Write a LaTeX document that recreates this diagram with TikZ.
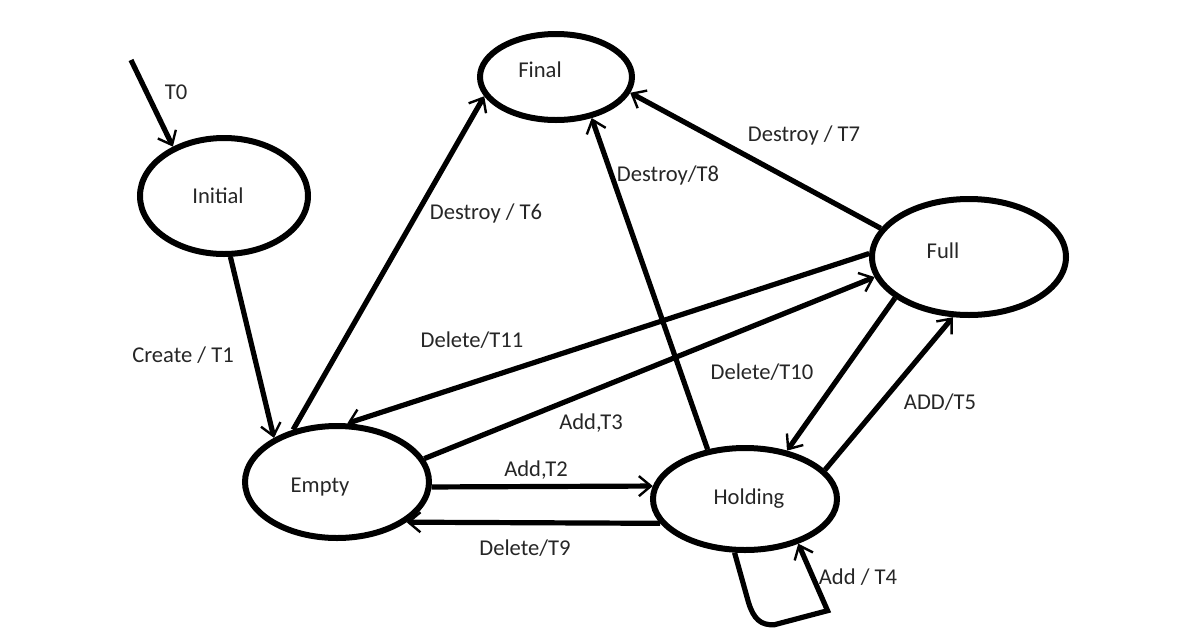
\documentclass[tikz,border=0pt]{standalone}
\usepackage{fontspec}
\setmainfont{Carlito}
\usetikzlibrary{arrows.meta}
\usetikzlibrary{shapes.geometric}

\tikzset{
  state/.style={draw, ellipse, line width=3pt, inner sep=0pt},
  trans/.style={line width=2.6pt,
    -{Straight Barb[length=6pt,width=10pt,line width=1.2pt]}},
  lbl/.style={text=black!85, font=\fontsize{11.3}{13}\selectfont, inner sep=1pt},
}

\begin{document}
\begin{tikzpicture}[x=0.5pt, y=-0.5pt]
  \useasboundingbox (0,0) rectangle (1190,633);

  % states
  \node[state, minimum width=84pt, minimum height=58pt,
    label={[lbl, xshift=-3pt]center:Initial}] (init) at (224,196) {};
  \node[state, minimum width=76pt, minimum height=43pt,
    label={[lbl, xshift=-8pt, yshift=3.5pt]center:Final}] (final) at (556,77) {};
  \node[state, minimum width=97pt, minimum height=58pt,
    label={[lbl, xshift=-13pt, yshift=3pt]center:Full}] (full) at (969,257) {};
  \node[state, minimum width=92pt, minimum height=56pt,
    label={[lbl, xshift=-8.5pt, yshift=-2.5pt]center:Empty}] (empty) at (337,482) {};
  \node[state, minimum width=92pt, minimum height=51pt,
    label={[lbl, xshift=2pt]center:Holding}] (hold) at (745,499) {};

  % transitions
  \coordinate (start) at (131,60);
  \draw[trans] (start) -- (init.136);
  \draw[trans] (init.-84) -- (empty.145);
  \draw[trans] (empty.130) -- (final.195);
  \draw[trans] (hold.127) -- (final.-49);
  \draw[trans] (full.162) -- (final.-12);
  \draw[trans] (full.178) -- (empty.80);
  \draw[trans] (empty.15) -- (full.192);
  \draw[trans] (full.209) -- (hold.49);
  \draw[trans] (hold.20) -- (full.255);
  \draw[trans] (empty.-3) -- (hold.172);
  \draw[trans] (hold.196) -- (empty.-30);
  \draw[trans] (hold.-101) -- ++(14,50) .. controls +(5,16) and +(-14,1) .. ++(26,22)
    -- ++(53,-14) -- (hold.-40);

  % labels
  \node[lbl] (l0)  at (176,92)  {T0};
  \node[lbl] (l1)  at (183,355) {Create / T1};
  \node[lbl] (l6)  at (486,213) {Destroy / T6};
  \node[lbl] (l8)  at (668,175) {Destroy/T8};
  \node[lbl] (l7)  at (804,135) {Destroy / T7};
  \node[lbl] (l11) at (472,340) {Delete/T11};
  \node[lbl] (l3)  at (591,423) {Add,T3};
  \node[lbl] (l2)  at (536,470) {Add,T2};
  \node[lbl] (l9)  at (525,548) {Delete/T9};
  \node[lbl] (l10) at (762,372) {Delete/T10};
  \node[lbl] (l5)  at (940,402) {ADD/T5};
  \node[lbl] (l4)  at (858,577) {Add / T4};
\end{tikzpicture}
\end{document}
